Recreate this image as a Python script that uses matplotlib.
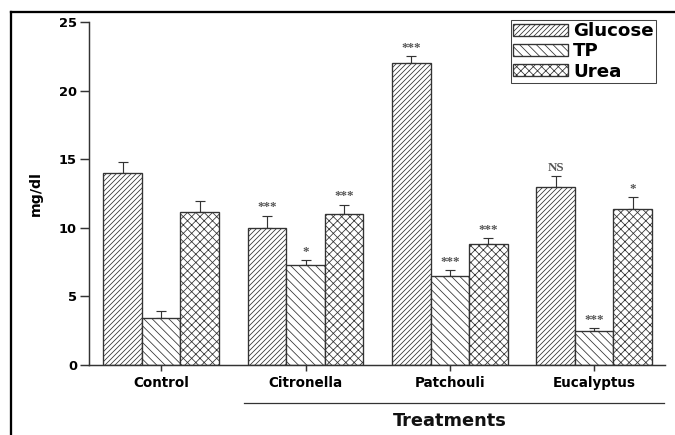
import matplotlib
matplotlib.use('Agg')
import matplotlib.pyplot as plt
import matplotlib.transforms as mtransforms
from matplotlib.lines import Line2D
import numpy as np

# ---- data ----
groups = ['Control', 'Citronella', 'Patchouli', 'Eucalyptus']
series = ['Glucose', 'TP', 'Urea']
glucose = [14.0, 10.0, 22.0, 13.0]
tp = [3.4, 7.3, 6.5, 2.5]
urea = [11.15, 11.0, 8.8, 11.35]
glucose_err = [0.8, 0.9, 0.5, 0.8]
tp_err = [0.55, 0.35, 0.45, 0.2]
urea_err = [0.8, 0.7, 0.45, 0.9]
glucose_sig = ['', '***', '***', 'NS']
tp_sig = ['', '*', '***', '***']
urea_sig = ['', '***', '***', '*']
yticks = [0, 5, 10, 15, 20, 25]

values = [glucose, tp, urea]
errors = [glucose_err, tp_err, urea_err]
sigs = [glucose_sig, tp_sig, urea_sig]
hatches = ['/////', '\\\\\\', 'xxx']

plt.rcParams['hatch.linewidth'] = 0.75
plt.rcParams['hatch.color'] = '#2a2a2a'

fig = plt.figure(figsize=(9, 5.8), dpi=75)
ax = fig.add_axes([0.1319, 0.161, 0.8531, 0.788])

x = np.arange(len(groups))
width = 0.267
offsets = [-width, 0, width]

for vals, errs, sg, h, name, off in zip(values, errors, sigs, hatches, series, offsets):
    pos = x + off
    ax.bar(pos, vals, width, facecolor='white', edgecolor='#333333',
           linewidth=1.3, hatch=h, label=name, zorder=2)
    ax.errorbar(pos, vals, yerr=[np.zeros(len(vals)), errs], fmt='none',
                ecolor='#333333', elinewidth=1.1, capsize=4.8, capthick=1.1, zorder=1)
    for p, v, e, s in zip(pos, vals, errs, sg):
        if s:
            ax.annotate(s, (p, v + e), xytext=(0, 2), textcoords='offset points',
                        ha='center', va='bottom', fontsize=12.5, color='#555555',
                        family='Liberation Serif', fontweight='bold')

ax.set_xlim(-0.5, 3.49)
ax.set_ylim(0, 25)
ax.set_yticks(yticks)
ax.set_xticks(x)
ax.set_xticklabels(groups)
for sp in ['top', 'right']:
    ax.spines[sp].set_visible(False)
for sp in ['left', 'bottom']:
    ax.spines[sp].set_linewidth(1.4)
    ax.spines[sp].set_color('#333333')
ax.tick_params(axis='y', direction='out', length=8.5, width=1.4, color='#333333',
               labelsize=12.5, pad=3)
ax.tick_params(axis='x', direction='out', length=6, width=1.4, color='#333333',
               labelsize=13, pad=5)
for lab in ax.get_xticklabels() + ax.get_yticklabels():
    lab.set_fontweight('bold')

ax.set_ylabel('mg/dl', fontsize=13.5, fontweight='bold', labelpad=16)

# "Treatments" bracket line under the treated groups
trans = mtransforms.blended_transform_factory(ax.transData, ax.transAxes)
ax.add_line(Line2D([0.575, 3.486], [-0.111, -0.111], transform=trans,
                   color='#333333', linewidth=1.2, clip_on=False))
ax.text(2.0, -0.163, 'Treatments', transform=trans, ha='center', va='center',
        fontsize=17, fontweight='bold', color='#111111')

leg = ax.legend(loc='upper right', bbox_to_anchor=(0.972, 0.954),
                bbox_transform=fig.transFigure, borderaxespad=0,
                prop={'size': 17.5, 'weight': 'bold'}, fancybox=False,
                edgecolor='#444444', framealpha=1, handlelength=3.0,
                handleheight=0.65, labelspacing=0.12, borderpad=0.12,
                handletextpad=0.3)
leg.get_frame().set_linewidth(1.0)

# outer frame (top and left edges)
fig.add_artist(Line2D([11 / 675, 1.0], [1 - 12 / 435, 1 - 12 / 435],
                      transform=fig.transFigure, color='black', linewidth=2.2))
fig.add_artist(Line2D([11 / 675, 11 / 675], [0.0, 1 - 12 / 435],
                      transform=fig.transFigure, color='black', linewidth=2.2))

fig.savefig('out.png', dpi=75, facecolor='white')
